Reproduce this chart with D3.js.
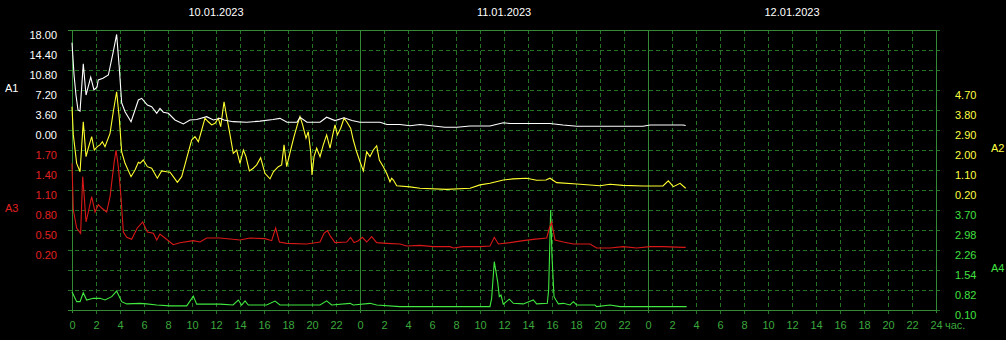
<!DOCTYPE html>
<html>
<head>
<meta charset="utf-8">
<script src="https://cdn.jsdelivr.net/npm/d3@7"></script>
<style>
  html, body { margin: 0; padding: 0; background: #000; }
  svg { display: block; }
  text { font-family: "Liberation Sans", Arial, sans-serif; font-size: 11px; }
</style>
</head>
<body>
<svg id="chart" width="1006" height="340"></svg>
<script>
// ---- data (hours from 10.01.2023 00:00) ----
const dayLabels = ["10.01.2023", "11.01.2023", "12.01.2023"];
const hourTickLabels = ["0","2","4","6","8","10","12","14","16","18","20","22"];
const lastTickLabel = "24";
const unitLabel = "час.";

const a1Ticks = [18.00, 14.40, 10.80, 7.20, 3.60, 0.00];
const a3Ticks = [1.70, 1.40, 1.10, 0.80, 0.50, 0.20];
const a2Ticks = [4.70, 3.80, 2.90, 2.00, 1.10, 0.20];
const a4Ticks = [3.70, 2.98, 2.26, 1.54, 0.82, 0.10];

const a1Hours = [0,0.17,0.33,0.5,0.67,0.94,1.17,1.56,1.83,2.08,2.19,2.58,3.03,3.44,3.72,3.94,4.14,4.42,4.92,5.25,5.53,5.81,6.28,6.64,7.06,7.33,7.61,8.03,8.58,9.28,9.83,10.39,11.22,11.78,12.33,12.67,13.42,14.56,15.67,16.75,17.33,17.92,18.75,19,19.58,20.67,21.22,21.92,22.67,23.33,24,25.67,26.25,27.33,28.17,29,31.08,32.08,33.17,34.83,35.94,36.5,39.83,40.92,42.08,44,47.58,48.17,50.92,51.14];
const a1Values = [15.7,9.9,6.3,3.6,3.4,11.9,6.3,9.5,7.2,7.7,9.0,9.3,9.9,14.1,17.2,11.2,4.9,3.3,1.5,3.6,5.4,5.7,4.5,4.2,3.0,3.9,3.2,3.0,1.8,1.1,1.8,1.9,2.4,1.8,2.1,1.8,1.5,1.4,1.6,1.9,2.1,1.4,1.4,2.3,1.4,1.4,2.3,1.7,2.2,1.7,1.4,1.4,1.0,1.0,0.77,1.0,0.49,0.49,0.72,0.72,1.3,1.17,1.17,0.9,0.67,0.67,0.67,0.9,0.9,0.81];

const a2Hours = [0,0.11,0.39,0.67,0.94,1.17,1.36,1.64,1.86,2.11,2.33,2.53,2.75,3.17,3.44,3.72,3.94,4.14,4.42,4.92,5.25,5.53,5.67,5.94,6.28,6.64,7.11,7.47,7.89,8.17,8.44,8.78,9.14,9.56,9.97,10.25,10.53,10.81,11.08,11.36,11.64,11.92,12.19,12.39,12.67,12.89,13.17,13.44,13.72,14,14.28,14.5,14.78,15.11,15.39,15.72,16.08,16.5,16.78,17.19,17.47,17.67,17.89,18.22,18.5,18.78,19,19.22,19.5,19.69,19.89,20,20.17,20.39,20.67,20.94,21.22,21.5,21.78,21.92,22.11,22.39,22.67,22.89,23.22,23.44,23.72,24,24.28,24.56,24.83,25.11,25.39,25.61,25.94,26.22,26.5,26.64,26.78,27.06,28.17,29,31.22,33.17,34,34.83,35.94,36.75,37.89,38.72,39.5,39.83,40.39,42.06,44,44.83,45.92,47.58,49.25,49.69,50.11,50.67,51.14];
const a2Values = [3.95,2.68,1.40,1.02,3.27,1.70,2.09,2.60,2.00,2.15,2.23,2.37,2.15,2.75,3.72,4.62,3.43,1.92,1.40,0.80,1.10,1.45,1.40,1.55,1.25,1.18,0.73,1.06,1.02,1.00,0.80,0.55,0.80,1.63,2.45,2.60,2.37,2.90,3.43,3.27,3.13,3.20,3.43,3.05,4.17,3.50,2.68,1.85,2.00,1.40,2.00,1.70,1.06,1.18,1.33,1.65,0.95,0.70,1.02,1.25,1.33,2.23,1.25,2.00,2.60,3.13,3.50,3.13,2.53,2.82,1.92,0.88,1.70,2.08,1.70,2.23,2.68,2.08,2.82,3.13,2.68,2.98,3.43,3.27,2.98,2.45,1.92,1.47,1.06,1.92,1.70,2.00,2.19,1.55,1.25,0.95,0.57,0.73,0.65,0.39,0.34,0.28,0.23,0.28,0.43,0.50,0.65,0.70,0.73,0.64,0.65,0.73,0.53,0.47,0.39,0.46,0.41,0.38,0.38,0.61,0.35,0.50,0.28];

const a3Hours = [0,0.11,0.39,0.72,0.89,1.0,1.17,1.36,1.64,1.92,2.19,2.47,2.89,3.17,3.5,3.67,3.86,4.06,4.28,4.56,4.97,5.44,5.89,6.28,6.78,7.06,7.33,7.75,8.44,9,10.11,10.67,11.22,12.33,14,14.83,16.08,16.64,16.97,17.28,17.89,19.56,20.67,21,21.28,21.56,21.92,22.89,23.22,23.5,23.86,24.19,24.56,24.97,25.39,26.22,27.33,27.89,29,30.11,31.5,31.78,32.58,34,34.83,35.19,35.53,36.5,37.61,38.44,39.56,39.78,39.97,40.25,40.94,41.78,43.17,43.72,44.83,45.94,47.06,48.17,49.28,50.94,51.14];
const a3Values = [1.50,0.80,0.53,0.45,1.30,1.05,0.62,0.77,1.00,0.77,0.88,0.83,0.77,1.00,1.50,1.70,1.45,1.05,0.47,0.39,0.36,0.53,0.62,0.47,0.45,0.35,0.44,0.38,0.28,0.31,0.34,0.32,0.38,0.38,0.35,0.38,0.37,0.34,0.53,0.32,0.30,0.29,0.32,0.45,0.49,0.40,0.31,0.32,0.39,0.31,0.34,0.39,0.32,0.40,0.31,0.30,0.29,0.26,0.27,0.25,0.25,0.23,0.25,0.25,0.26,0.39,0.29,0.31,0.34,0.36,0.38,0.53,0.62,0.35,0.32,0.29,0.29,0.23,0.23,0.25,0.23,0.25,0.25,0.24,0.24];

const a4Hours = [0,0.39,0.67,0.94,1.22,1.78,2.33,2.75,3.31,3.72,4.14,4.56,5.67,6.22,7.06,8.17,9.56,10.11,10.39,12.33,13.42,13.86,14.14,14.42,14.69,16.22,16.92,17.33,20.67,21.22,21.64,23.17,23.44,24.83,25.39,27.33,30.67,34.83,34.97,35.19,35.33,35.47,35.61,35.75,35.94,36.44,36.78,37.61,38.44,38.72,39.61,39.72,39.89,40,40.17,40.33,40.53,40.94,41.5,41.78,42.06,43.58,43.72,44.83,45.67,51.22];
const a4Values = [0.76,0.40,0.40,0.72,0.46,0.52,0.52,0.46,0.58,0.78,0.40,0.32,0.34,0.32,0.28,0.25,0.25,0.60,0.31,0.31,0.28,0.46,0.28,0.43,0.28,0.28,0.42,0.28,0.28,0.43,0.28,0.34,0.28,0.34,0.28,0.22,0.22,0.22,0.52,1.84,1.48,1.12,0.58,0.64,0.31,0.49,0.34,0.32,0.46,0.32,0.34,0.82,3.70,2.02,0.58,0.46,0.32,0.34,0.28,0.40,0.28,0.28,0.22,0.28,0.22,0.22];

// ---- layout ----
const L = 72, R = 936, T = 30, B = 310;
const gridColor = "#257325";
const borderColor = "#348a34";

const svg = d3.select("#chart");
svg.append("rect").attr("width", 1006).attr("height", 340).attr("fill", "#000");

const x = d3.scaleLinear().domain([0, 72]).range([L, R]);
const yRows = d3.scaleLinear().domain([0, 14]).range([T, B]);
const yA1 = d3.scaleLinear().domain([0, 18]).range([130, 30]);
const yA3 = d3.scaleLinear().domain([0.2, 1.7]).range([250, 150]);
const yA2 = d3.scaleLinear().domain([0.2, 4.7]).range([190, 90]);
const yA4 = d3.scaleLinear().domain([0.1, 3.7]).range([310, 210]);

const grid = svg.append("g").attr("shape-rendering", "crispEdges");

// horizontal grid lines
d3.range(0, 15).forEach(i => {
  const yy = yRows(i) + 0.5;
  grid.append("line").attr("x1", L - 4).attr("x2", R + 6).attr("y1", yy).attr("y2", yy)
    .attr("stroke", gridColor).attr("stroke-dasharray", "4,3");
});
// vertical grid lines
d3.range(2, 72, 2).filter(h => h % 24 !== 0).forEach(h => {
  const xx = Math.round(x(h)) + 0.5;
  grid.append("line").attr("x1", xx).attr("x2", xx).attr("y1", T).attr("y2", B + 5)
    .attr("stroke", gridColor).attr("stroke-dasharray", "4,3");
});
// solid border and day separators
[0, 24, 48, 72].forEach(h => {
  const xx = Math.round(x(h)) + 0.5;
  grid.append("line").attr("x1", xx).attr("x2", xx).attr("y1", T).attr("y2", B + 3)
    .attr("stroke", borderColor);
});
[T, B].forEach(yy => {
  grid.append("line").attr("x1", L - 4).attr("x2", R).attr("y1", yy + 0.5).attr("y2", yy + 0.5)
    .attr("stroke", borderColor);
});

// ---- axes ----
function styleAxis(g, color) {
  g.select(".domain").remove();
  g.selectAll("line").remove();
  g.selectAll("text").attr("fill", color).attr("dy", "0.74em")
    .style("font-family", "'Liberation Sans', Arial, sans-serif").style("font-size", "11px");
}
const fmt = d3.format(".2f");
svg.append("g").attr("transform", `translate(${L},0)`)
  .call(d3.axisLeft(yA1).tickValues(a1Ticks).tickFormat(fmt).tickSize(0).tickPadding(15))
  .call(g => styleAxis(g, "#ffffff"));
svg.append("g").attr("transform", `translate(${L},0)`)
  .call(d3.axisLeft(yA3).tickValues(a3Ticks).tickFormat(fmt).tickSize(0).tickPadding(15))
  .call(g => styleAxis(g, "#e02020"));
svg.append("g").attr("transform", `translate(${R},0)`)
  .call(d3.axisRight(yA2).tickValues(a2Ticks).tickFormat(fmt).tickSize(0).tickPadding(19))
  .call(g => styleAxis(g, "#ffff40"));
svg.append("g").attr("transform", `translate(${R},0)`)
  .call(d3.axisRight(yA4).tickValues(a4Ticks).tickFormat(fmt).tickSize(0).tickPadding(19))
  .call(g => styleAxis(g, "#40e040"));

const xTickValues = d3.range(0, 73, 2);
const xTickText = h => h === 72 ? lastTickLabel : hourTickLabels[(h % 24) / 2];
const xAxisG = svg.append("g").attr("transform", `translate(0,${B})`)
  .call(d3.axisBottom(x).tickValues(xTickValues).tickFormat(xTickText).tickSize(0).tickPadding(11));
xAxisG.select(".domain").remove();
xAxisG.selectAll("text").attr("fill", "#3ca83c")
  .style("font-family", "'Liberation Sans', Arial, sans-serif").style("font-size", "11px");

svg.append("text").attr("x", R + 9).attr("y", 329).attr("fill", "#3ca83c").text(unitLabel);

// date labels
dayLabels.forEach((d, i) => {
  svg.append("text").attr("x", x(i * 24 + 12)).attr("y", 16).attr("text-anchor", "middle")
    .attr("fill", "#ffffff").text(d);
});

// series names
svg.append("text").attr("x", 5).attr("y", 91.5).attr("fill", "#ffffff").text("A1");
svg.append("text").attr("x", 5).attr("y", 211.5).attr("fill", "#e02020").text("A3");
svg.append("text").attr("x", 991).attr("y", 151.5).attr("fill", "#ffff40").text("A2");
svg.append("text").attr("x", 991).attr("y", 271.5).attr("fill", "#40e040").text("A4");

// ---- lines ----
function drawSeries(hours, values, yScale, color) {
  const pts = hours.map((h, i) => [h, values[i]]);
  svg.append("path").datum(pts)
    .attr("fill", "none").attr("stroke", color).attr("stroke-width", 1.1)
    .attr("stroke-linejoin", "miter")
    .attr("d", d3.line().x(d => x(d[0])).y(d => yScale(d[1])));
}
drawSeries(a4Hours, a4Values, yA4, "#40e840");
drawSeries(a3Hours, a3Values, yA3, "#d81818");
drawSeries(a2Hours, a2Values, yA2, "#ffff30");
drawSeries(a1Hours, a1Values, yA1, "#ffffff");
</script>
</body>
</html>
